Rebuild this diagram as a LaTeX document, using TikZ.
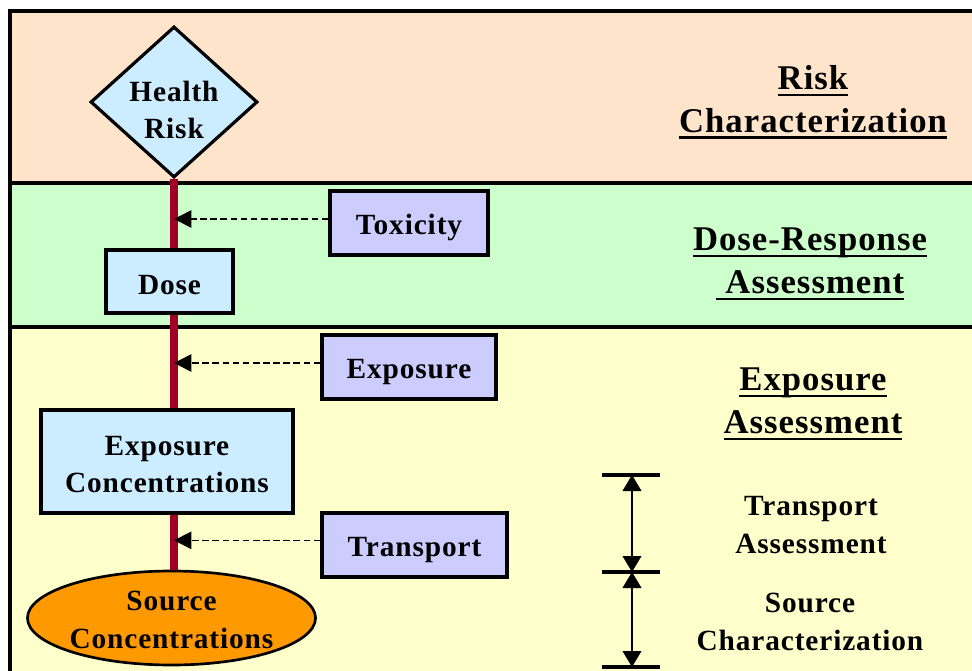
\documentclass[tikz,border=0pt]{standalone}
\usepackage{fontspec}
\setmainfont{Liberation Serif}[LetterSpace=3]
\usetikzlibrary{shapes.geometric,arrows.meta}
\definecolor{peach}{RGB}{255,228,204}
\definecolor{mint}{RGB}{204,255,204}
\definecolor{cream}{RGB}{255,255,204}
\definecolor{lblue}{RGB}{204,236,255}
\definecolor{lav}{RGB}{204,204,255}
\definecolor{orng}{RGB}{255,153,0}
\definecolor{dred}{RGB}{160,0,40}
\newcommand\myul[1]{\setbox0\hbox{#1}\rlap{\rule[-5pt]{\wd0}{1.8pt}}\box0}
\newcommand\dn[2]{\raisebox{-#1}[\height][\depth]{#2}}
\begin{document}
\begin{tikzpicture}[x=0.75pt,y=-0.75pt,
  every node/.style={font=\bfseries\fontsize{22}{28}\selectfont, align=center, inner sep=0pt},
  bluebox/.style={draw, line width=2.4pt, fill=lblue},
  lavbox/.style={draw, line width=2.4pt, fill=lav},
  title/.style={font=\bfseries\fontsize{26}{32}\selectfont},
  redline/.style={draw=dred, line width=5.4pt},
  dasharrow/.style={dashed, dash pattern=on 5pt off 2.6pt, line width=1.2pt, -{Triangle[length=13pt,width=13pt]}},
  dimarrow/.style={line width=1.5pt, {Triangle[length=12pt,width=14pt]}-{Triangle[length=12pt,width=14pt]}},
  bar/.style={line width=2.3pt}]
\useasboundingbox (0,0) rectangle (972,671);
\clip (0,0) rectangle (972,671);
\fill[white] (0,0) rectangle (972,671);
% bands
\fill[peach] (10,11) rectangle (990,183);
\fill[mint] (10,183) rectangle (990,327);
\fill[cream] (10,327) rectangle (990,690);
\draw[line width=2.4pt] (990,11) -- (10,11) -- (10,690);
\draw[line width=3pt] (10,183) -- (990,183);
\draw[line width=3.6pt] (10,327) -- (990,327);
% nodes
\node[diamond, draw, line width=2.4pt, fill=lblue, minimum width=125.25pt, minimum height=113.25pt] (hr) at (174,102) {};
\node (hrt) at (174,110) {Health\\Risk};
\node[bluebox, minimum width=95.25pt, minimum height=47.25pt] (dose) at (169.5,281.5) {\dn{3pt}{Dose}};
\node[bluebox, minimum width=189pt, minimum height=77.25pt] (expc) at (167,461.5) {\dn{2.25pt}{Exposure}\\\dn{2.25pt}{Concentrations}};
\node[ellipse, draw, line width=2pt, fill=orng, minimum width=215.25pt, minimum height=70.5pt] (src) at (171.5,618) {\dn{1.5pt}{Source}\\\dn{1.5pt}{Concentrations}};
\node[lavbox, minimum width=118.5pt, minimum height=48pt] (tox) at (409,223) {\dn{3pt}{Toxicity}};
\node[lavbox, minimum width=130.5pt, minimum height=48pt] (expo) at (409,367) {\dn{3.75pt}{Exposure}};
\node[lavbox, minimum width=138.75pt, minimum height=48pt] (trans) at (414.5,545) {\dn{3.5pt}{Transport}};
% red spine
\draw[redline] (hr.south) -- (hr.south |- dose.north);
\draw[redline] (hr.south |- dose.south) -- (hr.south |- expc.north);
\draw[redline] (hr.south |- expc.south) -- (hr.south |- src.north);
% dashed arrows
\draw[dasharrow] ([yshift=3pt]tox.west) -- ([yshift=3pt]tox.west -| hr.south);
\draw[dasharrow] ([yshift=3pt]expo.west) -- ([yshift=3pt]expo.west -| hr.south);
\draw[dasharrow] ([yshift=3.5pt]trans.west) -- ([yshift=3.5pt]trans.west -| hr.south);
% titles
\node[title] (t1) at (813,102) {\myul{Risk}\\\myul{Characterization}};
\node[title] (t2) at (810,264) {\myul{Dose-Response}\\\myul{\ Assessment}};
\node[title] (t3) at (813,404) {\myul{Exposure}\\\myul{Assessment}};
% dimension markers
\coordinate (d1) at (632,475);
\coordinate (d2) at (632,572);
\coordinate (d3) at (632,667);
\draw[bar] (602,475) -- (660,475);
\draw[bar] (602,572) -- (660,572);
\draw[bar] (602,667) -- (660,667);
\draw[dimarrow] (d1) -- (d2);
\draw[dimarrow] (d2) -- (d3);
\node (l1) at (811,525) {Transport\\Assessment};
\node (l2) at (810,622) {Source\\Characterization};
\end{tikzpicture}
\end{document}
